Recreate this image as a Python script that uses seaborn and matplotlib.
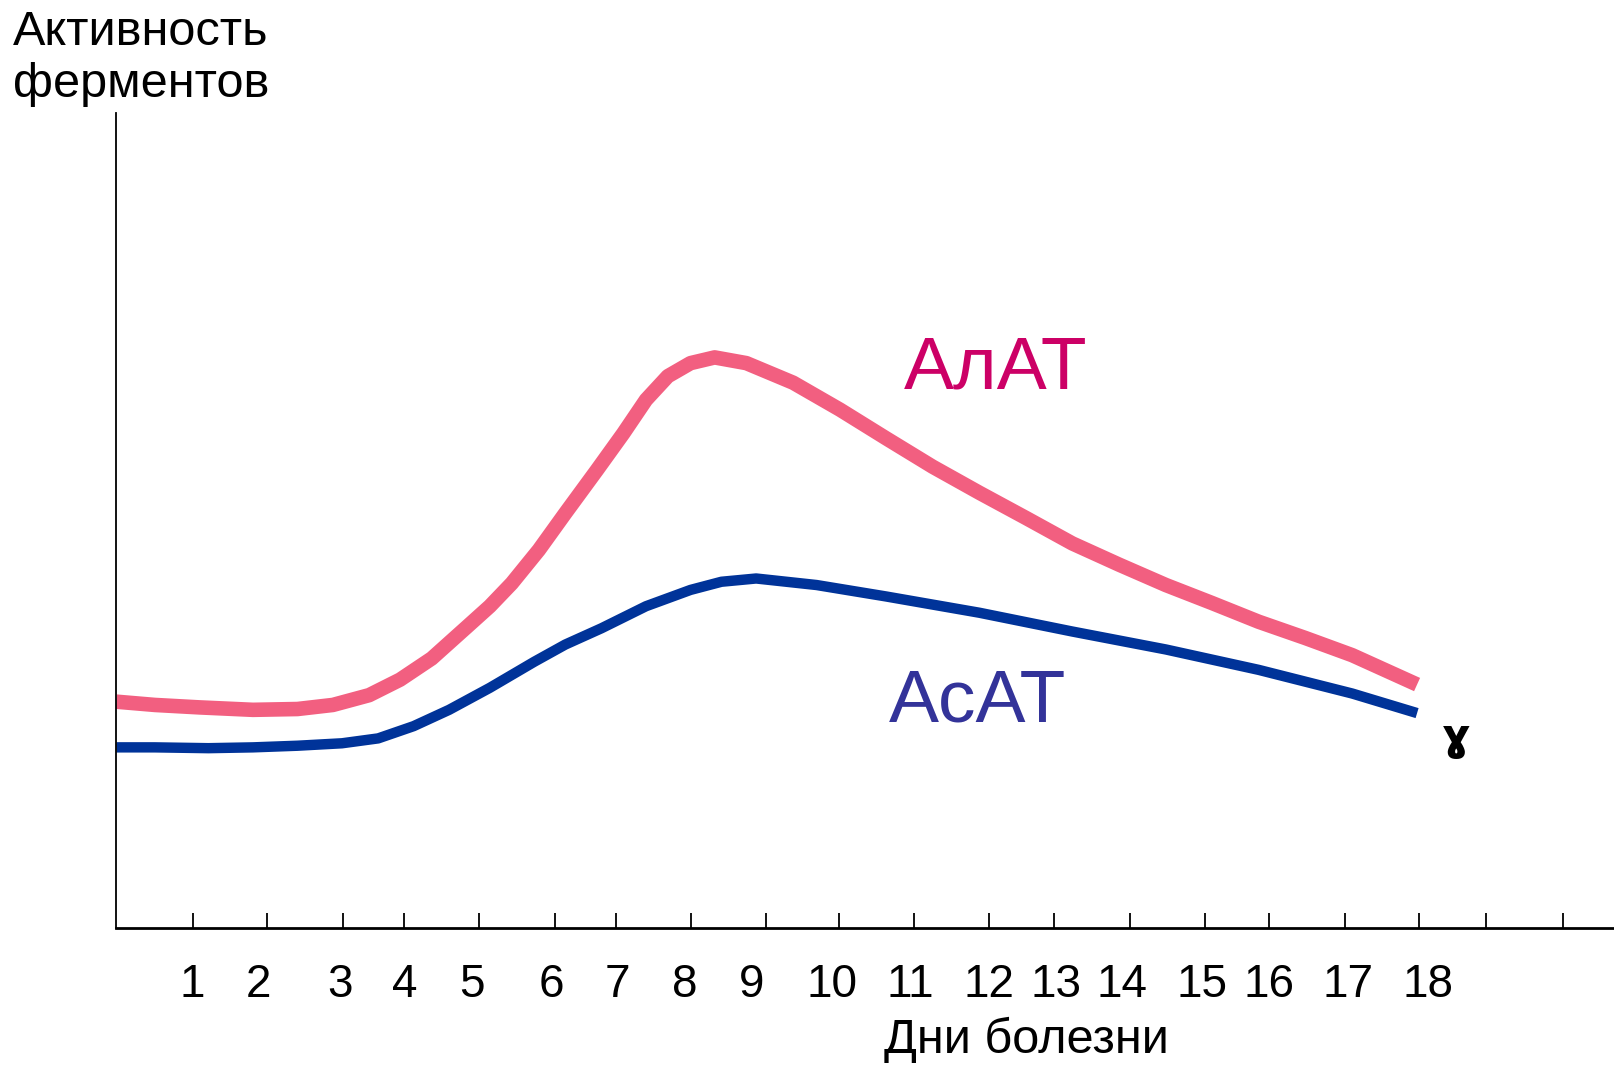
import matplotlib
matplotlib.use("Agg")
import matplotlib.pyplot as plt
import seaborn as sns
import pandas as pd

# Data (x in "day" units, y in arbitrary activity units)
alat_x = [0.0, 0.51, 1.10, 1.81, 2.40, 2.87, 3.35, 3.76, 4.18, 4.65, 4.95, 5.24, 5.60, 5.95, 6.37,
          6.72, 7.02, 7.31, 7.61, 7.93, 8.35, 8.97, 9.59, 10.20, 10.82, 11.44, 12.06, 12.67, 13.29,
          13.91, 14.52, 15.14, 15.76, 16.38, 17.24]
alat_y = [27.8, 27.4, 27.1, 26.8, 26.9, 27.4, 28.6, 30.5, 33.1, 37.0, 39.5, 42.3, 46.4, 50.9, 56.2,
          60.7, 64.8, 67.7, 69.3, 70.0, 69.3, 66.9, 63.6, 60.1, 56.6, 53.4, 50.3, 47.2, 44.6,
          42.1, 39.9, 37.6, 35.6, 33.5, 29.9]
asat_x = [0.0, 0.51, 1.22, 1.81, 2.40, 2.99, 3.47, 3.94, 4.41, 4.95, 5.54, 5.95, 6.43, 7.02, 7.61,
          8.02, 8.48, 9.28, 10.20, 11.44, 12.67, 13.91, 15.14, 16.38, 17.24]
asat_y = [22.2, 22.2, 22.1, 22.2, 22.4, 22.7, 23.3, 24.8, 26.8, 29.5, 32.7, 34.8, 36.8, 39.5, 41.5,
          42.5, 42.9, 42.1, 40.7, 38.7, 36.4, 34.2, 31.7, 28.8, 26.4]

tick_positions = [1.01, 2.0, 3.0, 3.81, 4.8, 5.81, 6.62, 7.61, 8.61, 9.58, 10.57, 11.57, 12.43,
                  13.44, 14.43, 15.28, 16.28, 17.27, 18.16, 19.17]
label_positions = [1.01, 1.88, 2.96, 3.82, 4.71, 5.77, 6.64, 7.53, 8.42, 9.48, 10.52, 11.56, 12.46,
                   13.33, 14.39, 15.28, 16.32, 17.38]
day_labels = [str(i) for i in range(1, 19)]

sns.set_theme(style="white")
plt.rcParams['font.family'] = ['Liberation Sans', 'DejaVu Sans']

fig = plt.figure(figsize=(16.14, 10.65), dpi=100)
ax = fig.add_axes([0.0721, 0.1282, 0.9279, 0.766])

df_alat = pd.DataFrame({"x": alat_x, "y": alat_y})
df_asat = pd.DataFrame({"x": asat_x, "y": asat_y})
sns.lineplot(data=df_alat, x="x", y="y", ax=ax, color="#F25F80", linewidth=10.5,
             solid_capstyle="butt", solid_joinstyle="round", sort=False)
sns.lineplot(data=df_asat, x="x", y="y", ax=ax, color="#003399", linewidth=7.5,
             solid_capstyle="butt", solid_joinstyle="round", sort=False)

ax.set_xlim(0, 19.85)
ax.set_ylim(0, 100)
ax.set_xlabel("")
ax.set_ylabel("")
for s in ["top", "right"]:
    ax.spines[s].set_visible(False)
ax.spines["left"].set_linewidth(1.3)
ax.spines["bottom"].set_linewidth(2.0)
ax.spines["left"].set_color("black")
ax.spines["bottom"].set_color("black")

ax.set_xticks(tick_positions)
ax.set_xticklabels([])
ax.tick_params(axis="x", direction="in", length=11, width=1.3, color="black", bottom=True)
ax.set_yticks([])

for pos, lab in zip(label_positions, day_labels):
    ax.text(pos, -8.4, lab, ha="center", va="baseline", fontsize=33, color="black", clip_on=False)

fig.text(0.636, 0.0113, "Дни болезни", ha="center", va="baseline", fontsize=35, color="black")
fig.text(0.008, 0.9577, "Активность", ha="left", va="baseline", fontsize=35, color="black")
fig.text(0.008, 0.9089, "ферментов", ha="left", va="baseline", fontsize=35, color="black")

ax.text(11.65, 66.2, "АлАТ", ha="center", va="baseline", fontsize=54, color="#CC0066")
ax.text(11.42, 25.4, "АсАТ", ha="center", va="baseline", fontsize=54, color="#333399")
ax.text(17.76, 26.0, "ɣ", ha="center", va="top", fontsize=32, color="black", fontweight="bold",
        family=["DejaVu Sans"])

fig.savefig("out.png", dpi=100, facecolor="white")
